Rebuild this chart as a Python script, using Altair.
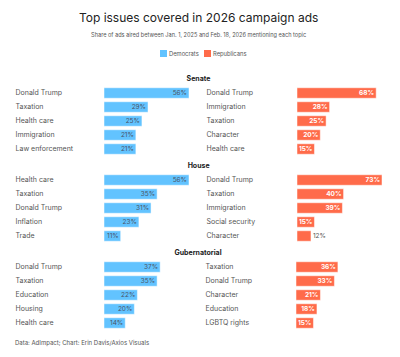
import altair as alt
import pandas as pd

title_text = "Top issues covered in 2026 campaign ads"
subtitle_text = "Share of ads aired between Jan. 1, 2025 and Feb. 18, 2026 mentioning each topic"
footer_text = "Data: AdImpact; Chart: Erin Davis/Axios Visuals"
parties = ["Democrats", "Republicans"]
party_colors = ["#62c3ff", "#ff6b4a"]
sections = ["Senate", "House", "Gubernatorial"]

senate_dem_topics = ["Donald Trump", "Taxation", "Health care", "Immigration", "Law enforcement"]
senate_dem_values = [56, 29, 25, 21, 21]
senate_rep_topics = ["Donald Trump", "Immigration", "Taxation", "Character", "Health care"]
senate_rep_values = [68, 28, 25, 20, 15]

house_dem_topics = ["Health care", "Taxation", "Donald Trump", "Inflation", "Trade"]
house_dem_values = [56, 35, 31, 23, 11]
house_rep_topics = ["Donald Trump", "Taxation", "Immigration", "Social security", "Character"]
house_rep_values = [73, 40, 39, 15, 12]

gov_dem_topics = ["Donald Trump", "Taxation", "Education", "Housing", "Health care"]
gov_dem_values = [37, 35, 22, 20, 14]
gov_rep_topics = ["Taxation", "Donald Trump", "Character", "Education", "LGBTQ rights"]
gov_rep_values = [36, 33, 21, 18, 15]

FONT = "Inter"
PANEL_W = 85
PANEL_H = 70

dem_max = max(senate_dem_values + house_dem_values + gov_dem_values)
rep_max = max(senate_rep_values + house_rep_values + gov_rep_values)


def panel(topics, values, party, xmax, label_pad, inside_color, inside_weight):
    df = pd.DataFrame({
        "topic": topics,
        "value": values,
        "party": party,
        "label": [f"{v}%" for v in values],
        "inside": [v / xmax * PANEL_W >= 15 for v in values],
    })
    base = alt.Chart(df).encode(
        y=alt.Y("topic:N", sort=None, title=None,
                scale=alt.Scale(paddingInner=0.25, paddingOuter=0.125),
                axis=alt.Axis(labelAlign="left", labelPadding=label_pad, ticks=False,
                              tickSize=0, domain=False, labelFont=FONT, labelFontSize=7,
                              labelColor="#555555", labelLimit=200)),
        x=alt.X("value:Q", scale=alt.Scale(domain=[0, xmax]), axis=None),
    )
    bars = base.mark_bar(stroke="white", strokeWidth=0.5).encode(
        color=alt.Color("party:N", scale=alt.Scale(domain=parties, range=party_colors),
                        legend=alt.Legend(orient="none", legendX=56, legendY=-36,
                                          direction="horizontal", title=None,
                                          symbolType="square", symbolSize=49,
                                          symbolStrokeWidth=0, symbolOpacity=1,
                                          labelFont=FONT, labelFontSize=5.8,
                                          labelColor="#555555", columnPadding=5,
                                          labelOffset=2))
    )
    inside = base.transform_filter(alt.datum.inside).mark_text(
        align="right", baseline="middle", dx=-2, font=FONT, fontSize=6.5,
        color=inside_color, fontWeight=inside_weight
    ).encode(text="label:N")
    outside = base.transform_filter(~alt.datum.inside).mark_text(
        align="left", baseline="middle", dx=2, font=FONT, fontSize=6.5,
        color="#555555"
    ).encode(text="label:N")
    return alt.layer(bars, inside, outside).properties(width=PANEL_W, height=PANEL_H)


def section(name, dt, dv, rt, rv):
    left = panel(dt, dv, "Democrats", dem_max, 89, "#4a5468", "normal")
    right = panel(rt, rv, "Republicans", rep_max, 91, "white", "bold")
    return alt.hconcat(left, right, spacing=16).properties(
        title=alt.TitleParams(name, fontSize=7, fontWeight="bold", anchor="middle",
                              offset=4, font=FONT, color="#222222"))


sec1 = section(sections[0], senate_dem_topics, senate_dem_values, senate_rep_topics, senate_rep_values)
sec2 = section(sections[1], house_dem_topics, house_dem_values, house_rep_topics, house_rep_values)
sec3 = section(sections[2], gov_dem_topics, gov_dem_values, gov_rep_topics, gov_rep_values)

sec3_wrapped = alt.vconcat(sec3).properties(
    title=alt.TitleParams(footer_text, orient="bottom", anchor="start", frame="bounds",
                          offset=10, fontSize=6, font=FONT, color="#555555",
                          fontWeight="normal"))

chart = alt.vconcat(sec1, sec2, sec3_wrapped, spacing=6).properties(
    title=alt.TitleParams(title_text, subtitle=subtitle_text, anchor="middle",
                          font=FONT, fontSize=12, fontWeight="normal", color="#222222",
                          subtitleFont=FONT, subtitleFontSize=5.6, subtitleColor="#555555",
                          subtitlePadding=7.5, offset=10.5),
    padding={"left": 15, "top": 12, "right": 15, "bottom": 5},
).configure_view(stroke=None).configure_concat(spacing=6)

chart.save("out.html", embed_options={"renderer": "svg", "actions": False})
